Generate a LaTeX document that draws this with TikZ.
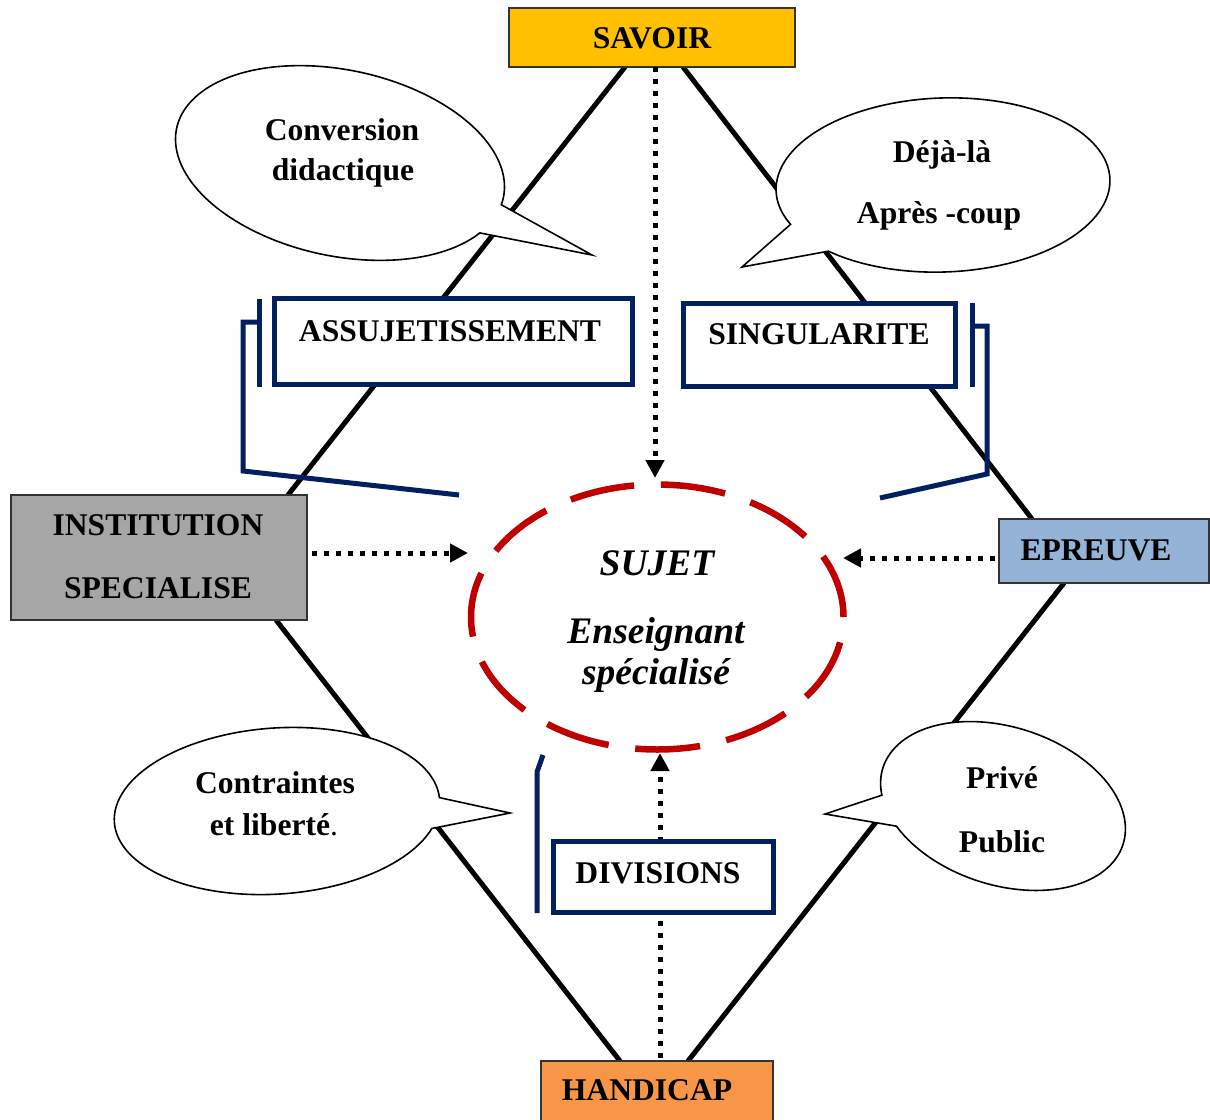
\documentclass[tikz,border=0pt]{standalone}
\usepackage{fontspec}
\setmainfont{Liberation Serif}
\usetikzlibrary{arrows.meta,shapes.geometric}
\definecolor{navyc}{HTML}{002060}
\definecolor{redc}{HTML}{C00000}
\definecolor{savc}{HTML}{FFC000}
\definecolor{handc}{HTML}{F79646}
\definecolor{instc}{HTML}{A6A6A6}
\definecolor{eprc}{HTML}{95B3D7}
\begin{document}
\begin{tikzpicture}[x=1pt,y=-1pt,
 lbl/.style={inner sep=0pt, anchor=base, font=\fontsize{31.6}{38}\selectfont\bfseries},
 ilbl/.style={lbl, font=\fontsize{37.5}{44}\selectfont\bfseries\itshape},
 fillbox/.style={draw=black!80, line width=1.5pt, inner sep=0pt, outer sep=0pt},
 navybox/.style={draw=navyc, line width=5.5pt, fill=white, inner sep=0pt, outer sep=0pt},
 navyline/.style={draw=navyc, line width=5pt},
 edgeline/.style={draw=black, line width=5pt},
 dotarrow/.style={line width=5pt, dash pattern=on 5pt off 7pt, -{Triangle[length=18pt,width=18pt]}},
 bubble/.style={draw=black, line width=1.6pt, fill=white, line join=miter},
 sujetell/.style={ellipse, draw=redc, line width=6.5pt, dash pattern=on 65pt off 26.8pt, minimum width=372.5pt, minimum height=265pt, inner sep=0pt}
]
\fill[white] (0,0) rectangle (1210,1119);
\useasboundingbox (0,0) rectangle (1210,1119);

% boxes (positions)
\node[fillbox, fill=savc, minimum width=286pt, minimum height=59pt] (savoir) at (652,37.5) {};
\node[fillbox, fill=handc, minimum width=232pt, minimum height=64pt] (hand) at (657,1093) {};
\node[fillbox, fill=instc, minimum width=296pt, minimum height=125pt] (inst) at (159,557.5) {};
\node[fillbox, fill=eprc, minimum width=210pt, minimum height=64pt] (epr) at (1104,551) {};

% diamond edges
\draw[edgeline] ([xshift=-27pt]savoir.south) -- ([xshift=129pt]inst.north);
\draw[edgeline] ([xshift=31pt]savoir.south) -- ([xshift=-72pt]epr.north);
\draw[edgeline] ([xshift=117pt]inst.south) -- ([xshift=-37pt]hand.north);
\draw[edgeline] ([xshift=31pt]hand.north) -- ([xshift=-40pt]epr.south);
% redraw boxes on top of edges
\node[fillbox, fill=savc, minimum width=286pt, minimum height=59pt] at (savoir) {};
\node[fillbox, fill=handc, minimum width=232pt, minimum height=64pt] at (hand) {};
\node[fillbox, fill=instc, minimum width=296pt, minimum height=125pt] at (inst) {};
\node[fillbox, fill=eprc, minimum width=210pt, minimum height=64pt] at (epr) {};

% callouts
\coordinate (tipA) at (592,255);
\coordinate (tipB2) at (742,267);
\coordinate (tipC) at (510,813);
\coordinate (tipD) at (825,814);
\begin{scope}[shift={(340,163)}, rotate=-12]
\draw[bubble] (25:167 and 93) arc[start angle=25, end angle=364.5, x radius=167, y radius=93] -- (tipA) -- cycle;
\end{scope}
\begin{scope}[shift={(943,185)}, rotate=2]
\draw[bubble] (157:167 and 87) arc[start angle=157, end angle=494.4, x radius=167, y radius=87] -- (tipB2) -- cycle;
\end{scope}
\begin{scope}[shift={(277,811)}, rotate=4]
\draw[bubble] (19.9:163 and 83) arc[start angle=19.9, end angle=358.6, x radius=163, y radius=83] -- (tipC) -- cycle;
\end{scope}
\begin{scope}[shift={(1003,806)}, rotate=-17.7]
\draw[bubble] (160.4:126 and 79) arc[start angle=160.4, end angle=499.2, x radius=126, y radius=79] -- (tipD) -- cycle;
\end{scope}

% central ellipse
\node[sujetell] (sujet) at (657.25,617) {};

% dotted arrows
\coordinate (tipT) at (655,478);
\coordinate (tipL) at (468,553);
\coordinate (tipR) at (843,558);
\coordinate (tipBot) at (660,753);
\draw[dotarrow] (savoir.south -| tipT) -- (tipT);
\draw[dotarrow, shorten <=5pt] (inst.east |- tipL) -- (tipL);
\draw[dotarrow, shorten <=4pt] (epr.west |- tipR) -- (tipR);
\draw[dotarrow, shorten <=3pt] (hand.north -| tipBot) -- (tipBot);

% navy boxes
\node[navybox, minimum width=358pt, minimum height=86pt] (assbox) at (453.5,341.5) {};
\node[navybox, minimum width=272pt, minimum height=83pt] (singbox) at (819.5,345) {};
\node[navybox, minimum width=220pt, minimum height=71pt] (divbox) at (663.5,877) {};

% navy brackets
\draw[navyline] (259,299) -- (259,387);
\draw[navyline] (259,322) -- (243,322) -- (243,471) -- (459,495);
\draw[navyline] (972,303) -- (972,387);
\draw[navyline] (972,326) -- (987,326) -- (987,474) -- (880,498);
\draw[navyline] (543,755) -- (537,772) -- (537,913);

% texts
\node[lbl] (tsav) at (652,48) {SAVOIR};
\node[lbl] (thand) at (647,1100) {HANDICAP};
\node[lbl] (tinst1) at (158,535) {INSTITUTION};
\node[lbl] (tinst2) at (158,598) {SPECIALISE};
\node[lbl] (tepr) at (1096,560) {EPREUVE};
\node[lbl] (tass) at (450,341) {ASSUJETISSEMENT};
\node[lbl] (tsing) at (819,344) {SINGULARITE};
\node[lbl] (tdiv) at (658,883) {DIVISIONS};
\node[ilbl] (tsuj) at (657,575) {SUJET};
\node[ilbl] (tens) at (656,643) {Enseignant};
\node[ilbl] (tspe) at (656,684) {spécialisé};
\node[lbl] (tconv) at (342,140) {Conversion};
\node[lbl] (tdid) at (343,180) {didactique};
\node[lbl] (tdeja) at (942,162) {Déjà-là};
\node[lbl] (tapres) at (939,223) {Après -coup};
\node[lbl] (tcont) at (275,793) {Contraintes};
\node[lbl] (tlib) at (274,835) {et liberté{\mdseries .}};
\node[lbl] (tpriv) at (1002,788) {Privé};
\node[lbl] (tpub) at (1002,852) {Public};
\end{tikzpicture}
\end{document}
